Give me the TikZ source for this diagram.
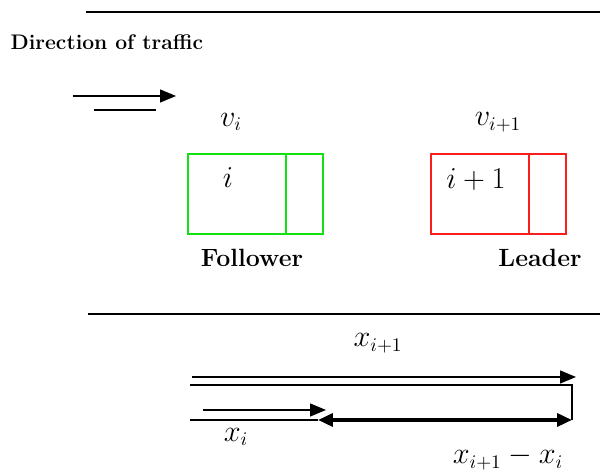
\documentclass[tikz,border=0pt]{standalone}
\usetikzlibrary{arrows.meta}
\definecolor{folgreen}{RGB}{20,225,20}
\definecolor{leadred}{RGB}{250,30,30}

\begin{document}
\begin{tikzpicture}[x=0.02cm,y=-0.02cm,line width=0.8pt,
  tri/.style={-{Triangle[length=0.32cm,width=0.26cm]}},
  car/.style={draw,line width=1pt,minimum width=2.7cm,minimum height=1.6cm,inner sep=0pt},
  lbl/.style={font=\fontsize{14.2}{17}\selectfont\bfseries},
  mth/.style={font=\fontsize{16}{19}\selectfont}]
\useasboundingbox (0,0) rectangle (600,472);
% road edges
\coordinate (rt1) at (86,12); \coordinate (rt2) at (600,12);
\draw (rt1) -- (rt2);
\coordinate (rm1) at (88,314); \coordinate (rm2) at (600,314);
\draw (rm1) -- (rm2);
% direction of traffic
\node[anchor=west,inner sep=0pt,font=\fontsize{12}{14}\selectfont\bfseries] (dir) at (10,42) {Direction of traffic};
\coordinate (d1) at (73,96); \coordinate (d2) at (176,96);
\draw[tri] (d1) -- (d2);
\coordinate (d3) at (94,110); \coordinate (d4) at (156,110);
\draw (d3) -- (d4);
% vehicles
\node[car,draw=folgreen] (fol) at (255.5,194) {};
\draw[folgreen,line width=1pt] ([xshift=-0.76cm]fol.north east) -- ([xshift=-0.76cm]fol.south east);
\node[car,draw=leadred] (lead) at (498.5,194) {};
\draw[leadred,line width=1pt] ([xshift=-0.76cm]lead.north east) -- ([xshift=-0.76cm]lead.south east);
\node[mth] (ni) at (228,178) {$i$};
\node[mth] (nii) at (476,180) {$i+1$};
\node[mth] (vi) at (231,122) {$v_i$};
\node[mth] (vii) at (498,122) {$v_{i+1}$};
\node[lbl] (folname) at (252,258) {Follower};
\node[lbl] (leadname) at (540,258) {Leader};
% positions
\node[mth] (xii) at (378,343) {$x_{i+1}$};
\coordinate (a1) at (192,377); \coordinate (a2) at (576,377);
\draw[tri] (a1) -- (a2);
\coordinate (b1) at (190,385); \coordinate (b2) at (572,385); \coordinate (b3) at (572,420);
\draw (b1) -- (b2) -- (b3);
\coordinate (c1) at (203,410); \coordinate (c2) at (326,410);
\draw[tri] (c1) -- (c2);
\coordinate (e1) at (190,420); \coordinate (e2) at (318,420);
\draw (e1) -- (e2);
\draw[line width=2pt,{Triangle[length=0.3cm,width=0.26cm]}-{Triangle[length=0.3cm,width=0.26cm]}] (e2) -- (b3);
\node[mth] (xi) at (236,437) {$x_i$};
\node[mth] (gap) at (508,458) {$x_{i+1}-x_i$};
\end{tikzpicture}
\end{document}
